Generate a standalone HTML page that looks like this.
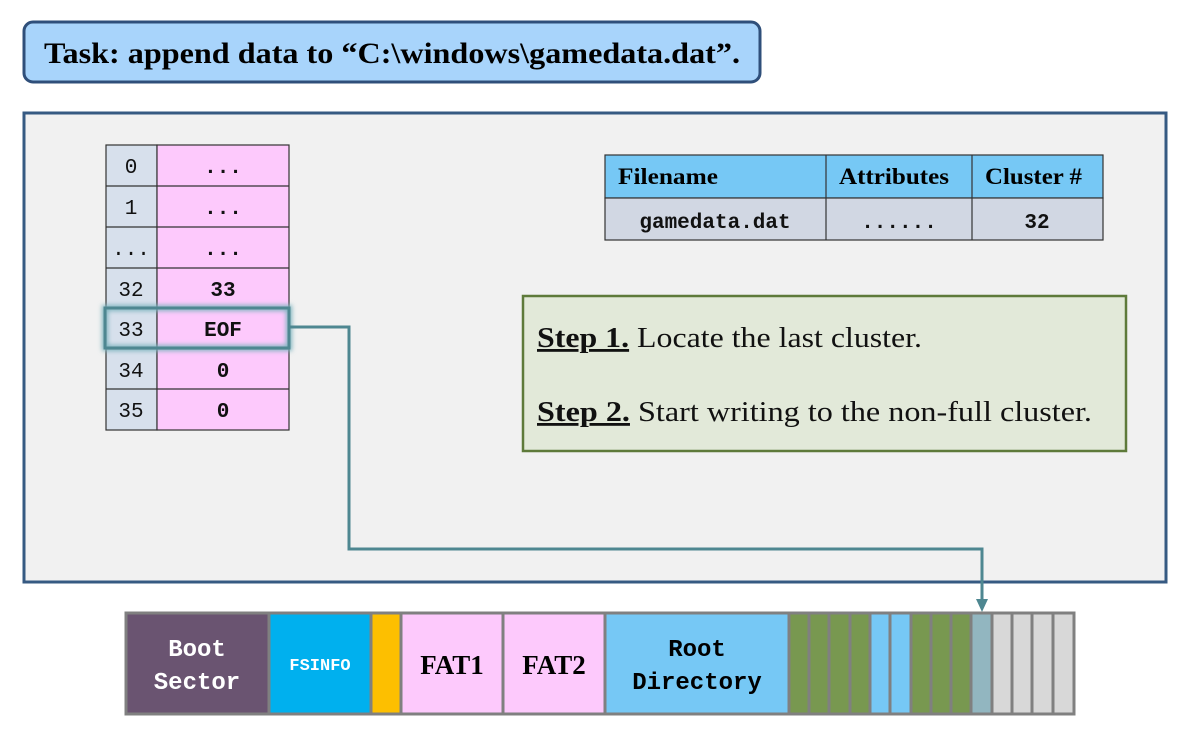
<!DOCTYPE html>
<html><head><meta charset="utf-8"><style>
html,body{margin:0;padding:0;background:#fff;}
svg{display:block;}
.mono{font-family:"Liberation Mono","DejaVu Sans Mono",monospace;}
.serif{font-family:"Liberation Serif",serif;}
</style></head><body>
<svg width="1193" height="742" viewBox="0 0 1193 742" xmlns="http://www.w3.org/2000/svg">
<defs>
<filter id="glow" x="-20%" y="-50%" width="140%" height="200%"><feGaussianBlur stdDeviation="2.5"/></filter>
</defs>
<!-- title -->
<rect x="24" y="22" width="736" height="60" rx="9" fill="#a8d4fb" stroke="#2f4f7a" stroke-width="3"/>
<text x="44" y="63" class="serif" font-weight="bold" font-size="30" fill="#000" textLength="696" lengthAdjust="spacingAndGlyphs">Task: append data to “C:\windows\gamedata.dat”.</text>
<!-- panel -->
<rect x="24" y="113" width="1142" height="469" fill="#f1f1f1" stroke="#365a82" stroke-width="3"/>
<!-- FAT table -->
<g stroke="#333" stroke-width="1.2">
<rect x="106" y="145" width="51" height="285" fill="#d7e0ec"/>
<rect x="157" y="145" width="132" height="285" fill="#fdc9fc"/>
<line x1="106" y1="186" x2="289" y2="186"/>
<line x1="106" y1="227" x2="289" y2="227"/>
<line x1="106" y1="268" x2="289" y2="268"/>
<line x1="106" y1="308" x2="289" y2="308"/>
<line x1="106" y1="349" x2="289" y2="349"/>
<line x1="106" y1="389" x2="289" y2="389"/>
</g>
<g class="mono" font-size="21" text-anchor="middle" fill="#111">
<text x="131" y="173">0</text><text x="131" y="214">1</text><text x="131" y="255">...</text>
<text x="131" y="296">32</text><text x="131" y="336">33</text><text x="131" y="377">34</text><text x="131" y="417">35</text>
<g font-weight="bold">
<text x="223" y="173">...</text><text x="223" y="214">...</text><text x="223" y="255">...</text>
<text x="223" y="296">33</text><text x="223" y="336">EOF</text><text x="223" y="377">0</text><text x="223" y="417">0</text>
</g></g>
<rect x="105" y="308" width="184" height="40" fill="none" stroke="#7fb5c0" stroke-width="6" filter="url(#glow)"/>
<rect x="105" y="308" width="184" height="40" fill="none" stroke="#4e8791" stroke-width="3"/>
<!-- connector -->
<polyline points="290,327 349,327 349,549 982,549 982,600" fill="none" stroke="#4e8791" stroke-width="3"/>
<polygon points="976,599 988,599 982,612" fill="#4e8791"/>
<!-- dir table -->
<g stroke="#333" stroke-width="1.2">
<rect x="605" y="155" width="498" height="43" fill="#76c8f5"/>
<rect x="605" y="198" width="498" height="42" fill="#d1d7e3"/>
<line x1="826" y1="155" x2="826" y2="240"/><line x1="972" y1="155" x2="972" y2="240"/>
</g>
<g class="serif" font-weight="bold" font-size="23" fill="#000" lengthAdjust="spacingAndGlyphs">
<text x="618" y="184" textLength="100" lengthAdjust="spacingAndGlyphs">Filename</text>
<text x="839" y="184" textLength="110" lengthAdjust="spacingAndGlyphs">Attributes</text>
<text x="985" y="184" textLength="97" lengthAdjust="spacingAndGlyphs">Cluster #</text>
</g>
<g class="mono" font-weight="bold" font-size="21" text-anchor="middle" fill="#111">
<text x="715" y="228">gamedata.dat</text><text x="899" y="228">......</text><text x="1037" y="228">32</text>
</g>
<!-- steps -->
<rect x="523" y="296" width="603" height="155" fill="#e2e9d9" stroke="#5e7a3a" stroke-width="2.5"/>
<g class="serif" font-size="28" fill="#111">
<text x="537" y="347" textLength="385" lengthAdjust="spacingAndGlyphs"><tspan font-weight="bold" text-decoration="underline">Step 1.</tspan> Locate the last cluster.</text>
<text x="537" y="421" textLength="555" lengthAdjust="spacingAndGlyphs"><tspan font-weight="bold" text-decoration="underline">Step 2.</tspan> Start writing to the non-full cluster.</text>
</g>
<!-- disk -->
<g stroke="#808080" stroke-width="3">
<rect x="126" y="613" width="143" height="101" fill="#6a5471"/>
<rect x="269" y="613" width="102" height="101" fill="#00b0ee"/>
<rect x="371" y="613" width="30" height="101" fill="#fdbf00"/>
<rect x="401" y="613" width="102" height="101" fill="#fdc9fc"/>
<rect x="503" y="613" width="102" height="101" fill="#fdc9fc"/>
<rect x="605" y="613" width="184" height="101" fill="#76c8f5"/>
<rect x="789" y="613" width="20" height="101" fill="#789850"/>
<rect x="809" y="613" width="20" height="101" fill="#789850"/>
<rect x="829" y="613" width="21" height="101" fill="#789850"/>
<rect x="850" y="613" width="20" height="101" fill="#789850"/>
<rect x="870" y="613" width="20" height="101" fill="#76c8f5"/>
<rect x="890" y="613" width="21" height="101" fill="#76c8f5"/>
<rect x="911" y="613" width="20" height="101" fill="#789850"/>
<rect x="931" y="613" width="20" height="101" fill="#789850"/>
<rect x="951" y="613" width="20" height="101" fill="#789850"/>
<rect x="971" y="613" width="21" height="101" fill="#92b6c0"/>
<rect x="992" y="613" width="20" height="101" fill="#d8d8d8"/>
<rect x="1012" y="613" width="20" height="101" fill="#d8d8d8"/>
<rect x="1032" y="613" width="21" height="101" fill="#d8d8d8"/>
<rect x="1053" y="613" width="21" height="101" fill="#d8d8d8"/>
</g>
<g class="mono" font-size="24" text-anchor="middle" fill="#fff" font-weight="bold">
<text x="197" y="656">Boot</text><text x="197" y="689">Sector</text>
<text x="320" y="670" font-size="17">FSINFO</text>
</g>
<g class="serif" font-weight="bold" font-size="27" text-anchor="middle" fill="#000">
<text x="452" y="674">FAT1</text><text x="554" y="674">FAT2</text>
</g>
<g class="mono" font-size="24" text-anchor="middle" fill="#000" font-weight="bold">
<text x="697" y="656">Root</text><text x="697" y="689">Directory</text>
</g>
</svg>
</body></html>
